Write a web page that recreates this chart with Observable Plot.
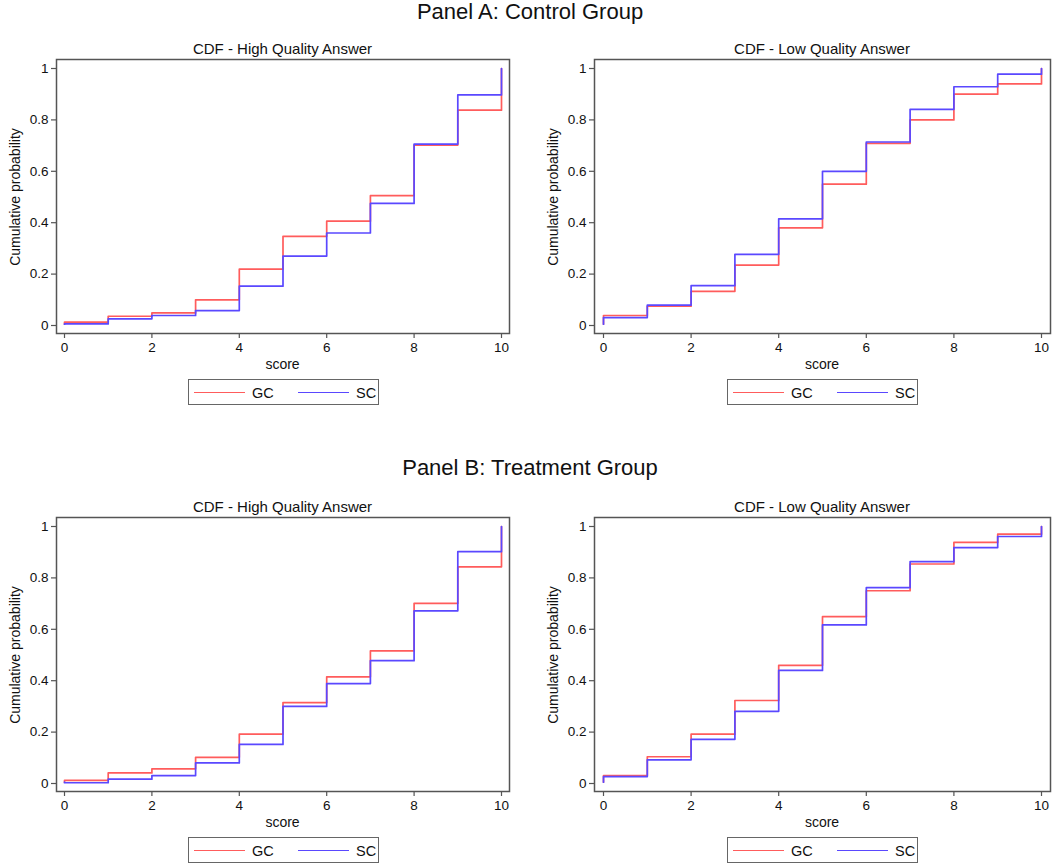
<!DOCTYPE html>
<html>
<head>
<meta charset="utf-8">
<script src="https://cdn.jsdelivr.net/npm/d3@7"></script>
<script src="https://cdn.jsdelivr.net/npm/@observablehq/plot@0.6"></script>
<style>
  body { margin: 0; background: #fff; font-family: "Liberation Sans", Arial, Helvetica, sans-serif; }
  #root { position: relative; width: 1058px; height: 867px; overflow: hidden; background: #fff; }
  .abs { position: absolute; white-space: nowrap; color: #111; line-height: 1; }
  .c { transform: translate(-50%, -50%); }
  .rot { transform: translate(-50%, -50%) rotate(-90deg); }
  .legend { position: absolute; box-sizing: border-box; border: 1.5px solid #666; background: #fff; }
  .legend .sw { position: absolute; height: 0; border-top: 1.8px solid; }
  .legend .lt { position: absolute; font-size: 14.5px; color: #111; line-height: 1; transform: translateY(-50%); }
  .plot { position: absolute; }
</style>
</head>
<body>
<div id="root"></div>
<script>
// ---- data ----
const scores = [0, 1, 2, 3, 4, 5, 6, 7, 8, 9, 10];
const firstObs = 0.005;
const ctrlHighGC = [0.013, 0.036, 0.049, 0.100, 0.219, 0.347, 0.406, 0.505, 0.702, 0.838, 1];
const ctrlHighSC = [0.006, 0.026, 0.039, 0.058, 0.153, 0.270, 0.360, 0.475, 0.706, 0.897, 1];
const ctrlLowGC  = [0.039, 0.075, 0.133, 0.235, 0.380, 0.550, 0.709, 0.800, 0.900, 0.940, 1];
const ctrlLowSC  = [0.031, 0.079, 0.155, 0.277, 0.415, 0.600, 0.714, 0.841, 0.929, 0.978, 1];
const trtHighGC  = [0.012, 0.041, 0.057, 0.102, 0.192, 0.315, 0.415, 0.516, 0.701, 0.843, 1];
const trtHighSC  = [0.003, 0.017, 0.031, 0.080, 0.152, 0.300, 0.389, 0.478, 0.672, 0.902, 1];
const trtLowGC   = [0.031, 0.104, 0.192, 0.323, 0.460, 0.649, 0.750, 0.854, 0.938, 0.970, 1];
const trtLowSC   = [0.027, 0.092, 0.172, 0.281, 0.440, 0.617, 0.762, 0.863, 0.918, 0.961, 1];
const xTicks = [0, 2, 4, 6, 8, 10];
const yTicks = [0, 0.2, 0.4, 0.6, 0.8, 1];
const seriesNames = ["GC", "SC"];
const seriesColors = ["#ff5c5c", "#5a48ff"];
const panelTitles = ["Panel A: Control Group", "Panel B: Treatment Group"];
const subTitles = ["CDF - High Quality Answer", "CDF - Low Quality Answer"];
const xLabel = "score";
const yLabel = "Cumulative probability";

const FONT = '"Liberation Sans", Arial, Helvetica, sans-serif';
const root = document.getElementById("root");

function rows(vals) {
  return [{score: scores[0], p: firstObs}].concat(scores.map((s, i) => ({score: s, p: vals[i]})));
}

function addText(txt, x, y, size, cls) {
  const d = document.createElement("div");
  d.className = "abs " + (cls || "c");
  d.style.left = x + "px";
  d.style.top = y + "px";
  d.style.fontSize = size + "px";
  d.textContent = txt;
  root.appendChild(d);
}

function panel(gc, sc, g) {
  const p = Plot.plot({
    width: g.width, height: 340,
    marginLeft: g.ml, marginRight: g.mr, marginTop: 29, marginBottom: 37,
    insetLeft: g.il, insetRight: g.ir, insetTop: 9, insetBottom: 8,
    style: {fontFamily: FONT, fontSize: "13px", color: "#111", background: "white", overflow: "visible"},
    x: {domain: [0, 10], label: null},
    y: {domain: [0, 1], label: null},
    marks: [
      Plot.axisX({ticks: xTicks, tickSize: 5, tickPadding: 4, stroke: "#555", strokeWidth: 1.2, fill: "#111", fontSize: 13.5, tickFormat: d => String(d), label: null}),
      Plot.axisY({ticks: yTicks, tickSize: 5, tickPadding: 3, stroke: "#555", strokeWidth: 1.2, fill: "#111", fontSize: 13.5, tickFormat: d => String(d), label: null}),
      Plot.line(rows(gc), {x: "score", y: "p", curve: "step-after", stroke: seriesColors[0], strokeWidth: 1.7}),
      Plot.line(rows(sc), {x: "score", y: "p", curve: "step-after", stroke: seriesColors[1], strokeWidth: 1.7}),
      Plot.frame({stroke: "#555", strokeWidth: 1.5})
    ]
  });
  p.classList.add("plot");
  p.style.left = g.left + "px";
  p.style.top = g.top + "px";
  root.appendChild(p);
}

function legend(left, top) {
  const L = document.createElement("div");
  L.className = "legend";
  L.style.left = left + "px";
  L.style.top = top + "px";
  L.style.width = "191px";
  L.style.height = "26px";
  const swX = [5, 109], txX = [63, 167];
  seriesNames.forEach((n, i) => {
    const s = document.createElement("div");
    s.className = "sw";
    s.style.left = swX[i] + "px";
    s.style.width = "51px";
    s.style.top = "11.5px";
    s.style.borderTopColor = seriesColors[i];
    L.appendChild(s);
    const t = document.createElement("div");
    t.className = "lt";
    t.style.left = txX[i] + "px";
    t.style.top = "12.5px";
    t.textContent = n;
    L.appendChild(t);
  });
  root.appendChild(L);
}

const rowTops = [30, 488];
const data = [[ctrlHighGC, ctrlHighSC, ctrlLowGC, ctrlLowSC], [trtHighGC, trtHighSC, trtLowGC, trtLowSC]];

rowTops.forEach((top, r) => {
  const off = top - 30;
  addText(panelTitles[r], 530, 12 + off + (r ? -2 : 0), 22);
  // left panel
  panel(data[r][0], data[r][1], {left: 0, top, width: 530, ml: 56, mr: 21, il: 8, ir: 8});
  addText(subTitles[0], 282.5, 48 + off, 15);
  addText(xLabel, 282.5, 364 + off, 14);
  addText(yLabel, 15, 197 + off, 14, "rot");
  legend(188, 379 + off);
  // right panel
  panel(data[r][2], data[r][3], {left: 530, top, width: 528, ml: 64, mr: 8, il: 9, ir: 9});
  addText(subTitles[1], 822, 48 + off, 15);
  addText(xLabel, 822, 364 + off, 14);
  addText(yLabel, 553, 197 + off, 14, "rot");
  legend(727, 379 + off);
});
</script>
</body>
</html>
